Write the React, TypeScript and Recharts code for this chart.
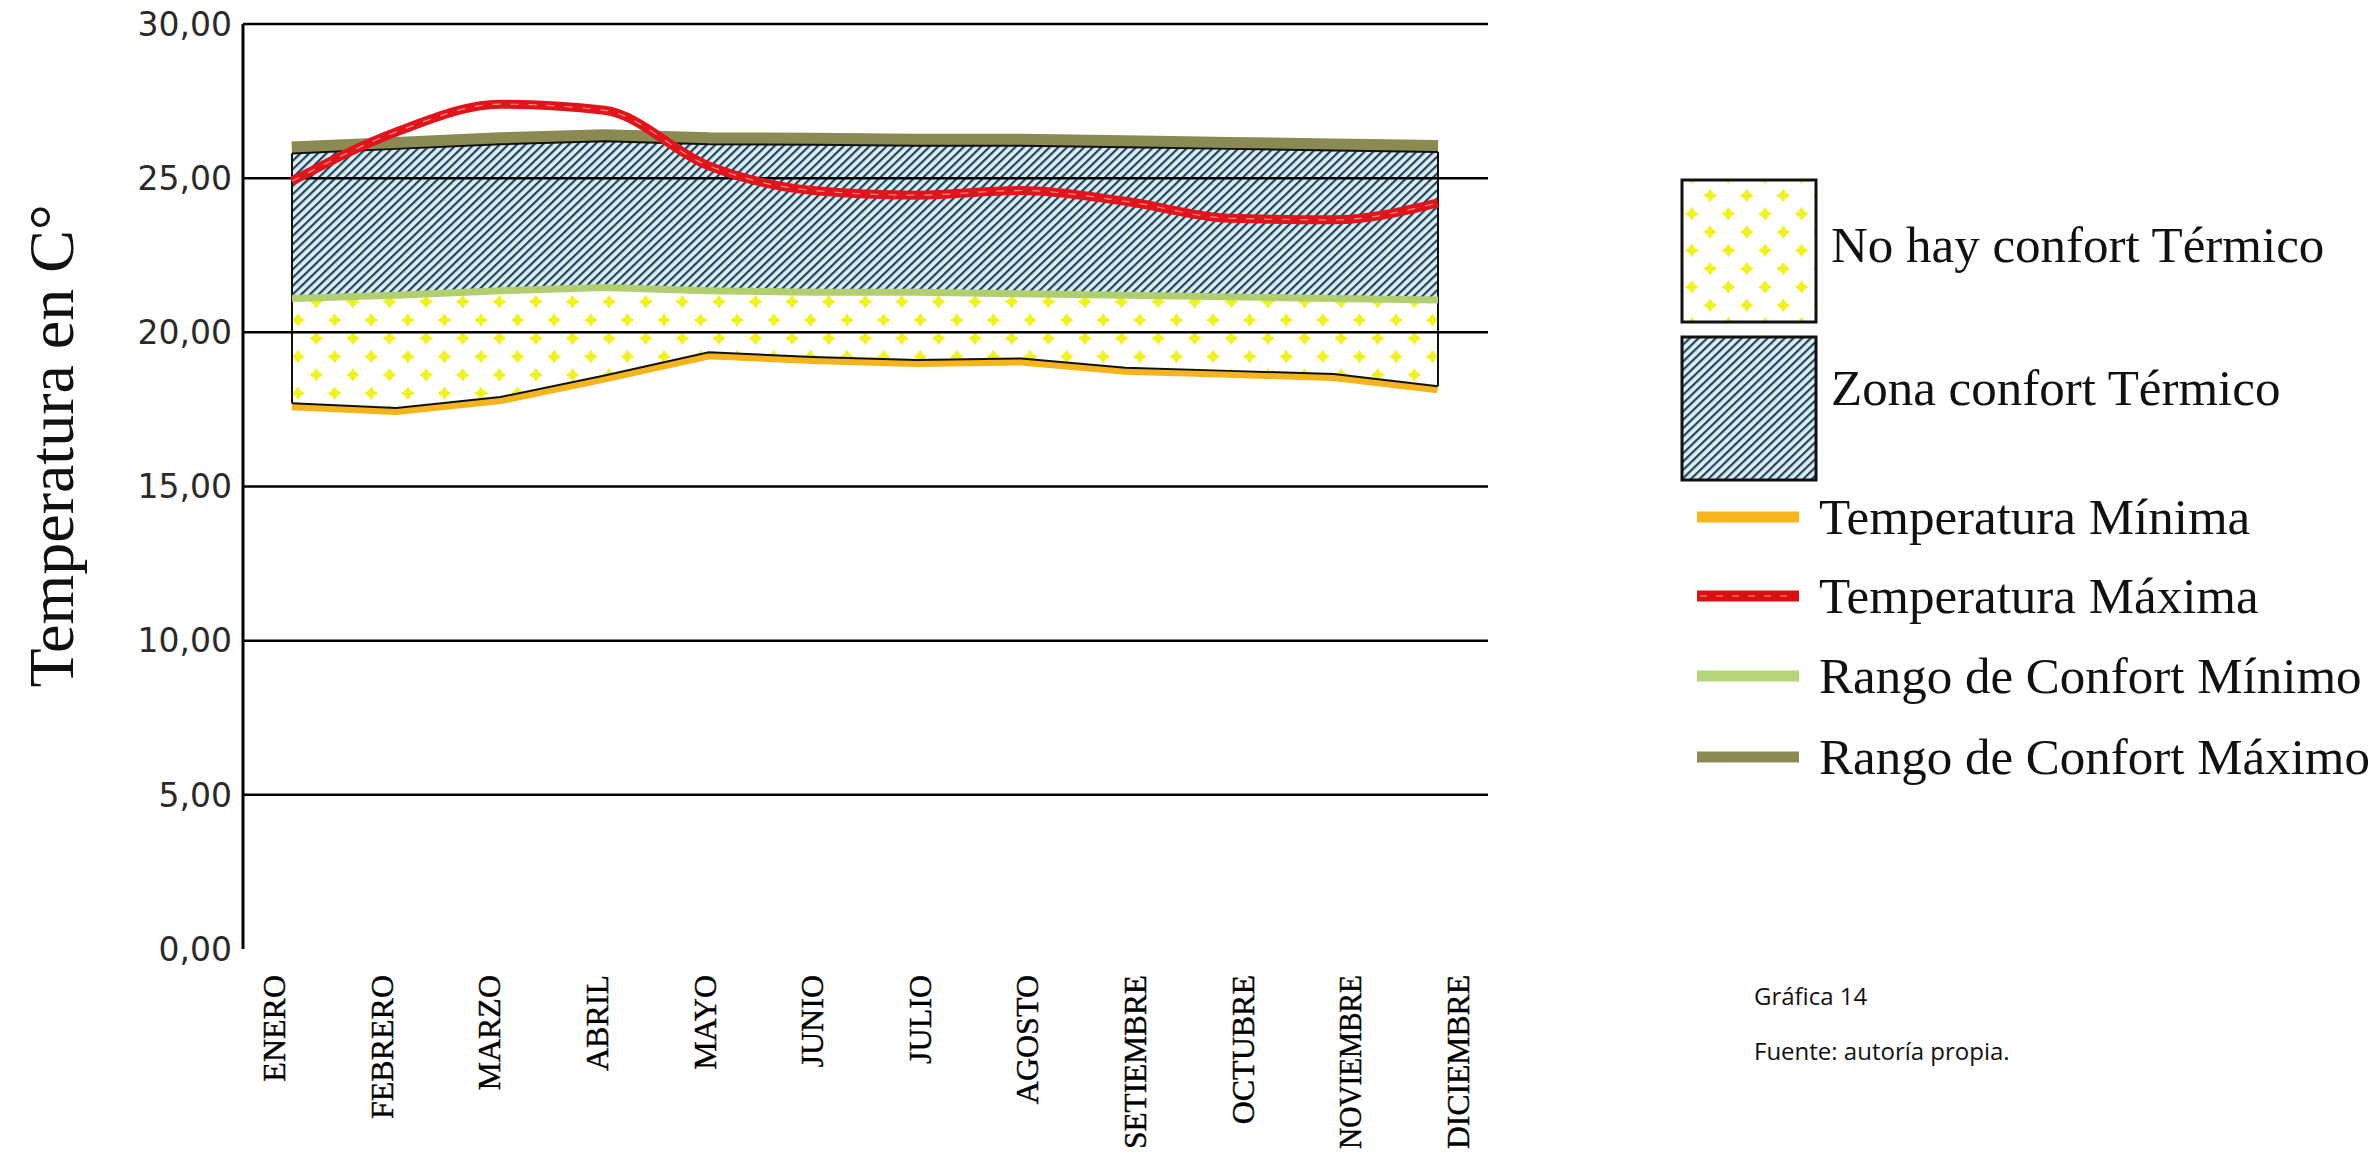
import React from "react";
import {
  ComposedChart,
  Area,
  Line,
  XAxis,
  YAxis,
  ReferenceLine,
  Legend,
  Label,
} from "recharts";

// valores
const MESES = [
  "ENERO",
  "FEBRERO",
  "MARZO",
  "ABRIL",
  "MAYO",
  "JUNIO",
  "JULIO",
  "AGOSTO",
  "SETIEMBRE",
  "OCTUBRE",
  "NOVIEMBRE",
  "DICIEMBRE",
];
const TEMP_MIN = [17.7, 17.55, 17.9, 18.6, 19.35, 19.2, 19.1, 19.15, 18.85, 18.75, 18.65, 18.25];
const TEMP_MAX = [24.9, 26.5, 27.4, 27.2, 25.4, 24.6, 24.45, 24.6, 24.25, 23.7, 23.65, 24.2];
const CONFORT_MIN = [21.1, 21.2, 21.35, 21.45, 21.35, 21.3, 21.3, 21.25, 21.2, 21.15, 21.1, 21.05];
const CONFORT_MAX = [25.8, 25.95, 26.1, 26.2, 26.1, 26.08, 26.05, 26.05, 26.0, 25.95, 25.9, 25.85];
const Y_TICKS = [0, 5, 10, 15, 20, 25, 30];

const LEYENDA_ZONAS = [
  { label: "No hay confort Térmico", fill: "url(#cruces)", y: 30, h: 142, base: 112 },
  { label: "Zona confort Térmico", fill: "url(#rayado)", y: 187, h: 143, base: 255 },
];
const LEYENDA_LINEAS = [
  { label: "Temperatura Mínima", color: "#f7b51c", y: 367 },
  { label: "Temperatura Máxima", color: "#d90f14", y: 446, dashed: true },
  { label: "Rango de Confort Mínimo", color: "#b6d479", y: 526 },
  { label: "Rango de Confort Máximo", color: "#8b8a53", y: 607 },
];

const data = MESES.map((mes, i) => ({
  mes,
  tMin: TEMP_MIN[i],
  tMax: TEMP_MAX[i],
  cMin: CONFORT_MIN[i],
  cMax: CONFORT_MAX[i],
  sinConfort: [TEMP_MIN[i], CONFORT_MIN[i]],
  zonaConfort: [CONFORT_MIN[i], CONFORT_MAX[i]],
}));

const SERIF = "'Liberation Serif', 'Times New Roman', serif";

function star(cx: number, cy: number) {
  const r = 7;
  const w = 2.7;
  return `M${cx},${cy - r} L${cx + w},${cy - w} L${cx + r},${cy} L${cx + w},${cy + w} L${cx},${cy + r} L${cx - w},${cy + w} L${cx - r},${cy} L${cx - w},${cy - w} Z`;
}

function MonthTick({ x, y, payload }: any) {
  const largo = payload.value.length >= 9;
  return (
    <text
      x={0}
      y={0}
      transform={`translate(${x - 9},${y + 26}) rotate(-90)`}
      textAnchor="end"
      fontFamily={SERIF}
      fontSize={32}
      fill="#000"
      stroke="#000"
      strokeWidth={0.4}
      textLength={largo ? 174 : undefined}
      lengthAdjust={largo ? "spacingAndGlyphs" : undefined}
    >
      {payload.value}
    </text>
  );
}

function Leyenda() {
  return (
    <svg width={730} height={700} style={{ display: "block" }}>
      {LEYENDA_ZONAS.map((z) => (
        <g key={z.label}>
          <rect x={32} y={z.y} width={134} height={z.h} fill={z.fill} stroke="#111" strokeWidth={3} />
          <text x={181} y={z.base} fontFamily={SERIF} fontSize={51} fill="#111">
            {z.label}
          </text>
        </g>
      ))}
      {LEYENDA_LINEAS.map((l) => (
        <g key={l.label}>
          <line x1={47} x2={149} y1={l.y} y2={l.y} stroke={l.color} strokeWidth={11} />
          {l.dashed && (
            <line x1={50} x2={146} y1={l.y} y2={l.y} stroke="#ff9a9a" strokeWidth={1.2} strokeDasharray="7 9" />
          )}
          <text x={169} y={l.y + 17} fontFamily={SERIF} fontSize={51} fill="#111">
            {l.label}
          </text>
        </g>
      ))}
    </svg>
  );
}

export default function App() {
  return (
    <div style={{ position: "absolute", left: 0, top: 0, width: 2380, height: 1153, background: "#fff" }}>
      <ComposedChart
        width={2380}
        height={1153}
        data={data}
        margin={{ top: 24, right: 892, left: 0, bottom: 24 }}
      >
        <defs>
          <pattern id="cruces" patternUnits="userSpaceOnUse" width={36.6} height={36.6} x={288.85} y={310.85}>
            <rect width={36.6} height={36.6} fill="#fff" />
            <path d={star(9.15, 9.15)} fill="#f0f21a" />
            <path d={star(27.45, 27.45)} fill="#f0f21a" />
          </pattern>
          <pattern id="rayado" patternUnits="userSpaceOnUse" width={6} height={10} patternTransform="rotate(46)">
            <rect width={6} height={10} fill="#dbeff7" />
            <rect width={2.2} height={10} fill="#24435a" />
          </pattern>
        </defs>

        {/* eje de las series: solo la línea del cero */}
        <XAxis
          xAxisId="serie"
          dataKey="mes"
          type="category"
          scale="point"
          padding={{ left: 49, right: 50 }}
          height={0}
          tick={false}
          tickLine={false}
          axisLine={{ stroke: "#000", strokeWidth: 3.5 }}
        />
        {/* eje de las etiquetas de los meses, algo más espaciadas que los puntos */}
        <XAxis
          xAxisId="meses"
          dataKey="mes"
          type="category"
          scale="point"
          padding={{ left: 51, right: 10 }}
          height={180}
          tickSize={0}
          tickMargin={0}
          interval={0}
          tick={<MonthTick />}
          axisLine={false}
          tickLine={false}
        />
        <YAxis
          width={243}
          domain={[0, 30]}
          ticks={Y_TICKS}
          interval={0}
          tickLine={false}
          tickMargin={5}
          axisLine={{ stroke: "#000", strokeWidth: 3 }}
          tickFormatter={(v: number) => v.toFixed(2).replace(".", ",")}
          tick={{ fontFamily: "'DejaVu Sans', sans-serif", fontSize: 33, fill: "#2a2a2a" }}
          label={
            <Label
              content={() => (
                <text
                  transform="translate(73,446) rotate(-90)"
                  textAnchor="middle"
                  fontFamily={SERIF}
                  fontSize={64}
                  fill="#111"
                >
                  Temperatura en C°
                </text>
              )}
            />
          }
        />

        {/* bandas gruesas que quedan medio tapadas por las zonas */}
        <Area
          xAxisId="serie"
          type="linear"
          dataKey="tMin"
          fill="none"
          stroke="#f5b31d"
          strokeWidth={14}
          isAnimationActive={false}
          activeDot={false}
        />
        <Area
          xAxisId="serie"
          type="linear"
          dataKey="cMax"
          fill="none"
          stroke="#8b8a53"
          strokeWidth={24}
          isAnimationActive={false}
          activeDot={false}
        />
        <Area
          xAxisId="serie"
          type="linear"
          dataKey="sinConfort"
          fill="url(#cruces)"
          fillOpacity={1}
          stroke="#111"
          strokeWidth={2}
          isAnimationActive={false}
          activeDot={false}
        />
        <Area
          xAxisId="serie"
          type="linear"
          dataKey="zonaConfort"
          fill="url(#rayado)"
          fillOpacity={1}
          stroke="#111"
          strokeWidth={2}
          isAnimationActive={false}
          activeDot={false}
        />

        <ReferenceLine
          xAxisId="serie"
          segment={[
            { x: MESES[0], y: TEMP_MIN[0] },
            { x: MESES[0], y: CONFORT_MAX[0] },
          ]}
          stroke="#111"
          strokeWidth={2}
          zIndex={250}
        />
        <ReferenceLine
          xAxisId="serie"
          segment={[
            { x: MESES[11], y: TEMP_MIN[11] },
            { x: MESES[11], y: CONFORT_MAX[11] },
          ]}
          stroke="#111"
          strokeWidth={2}
          zIndex={250}
        />
        {Y_TICKS.filter((t) => t > 0).map((t) => (
          <ReferenceLine key={t} xAxisId="serie" y={t} stroke="#000" strokeWidth={2.5} zIndex={250} />
        ))}

        <Line
          xAxisId="serie"
          type="linear"
          dataKey="cMin"
          stroke="#b1cf6e"
          strokeWidth={7}
          dot={false}
          activeDot={false}
          isAnimationActive={false}
        />
        <Line
          xAxisId="serie"
          type="monotone"
          dataKey="tMax"
          stroke="#e0141a"
          strokeWidth={9}
          dot={false}
          activeDot={false}
          isAnimationActive={false}
        />
        <Line
          xAxisId="serie"
          type="monotone"
          dataKey="tMax"
          stroke="#ff8c8c"
          strokeWidth={1.2}
          strokeDasharray="8 10"
          dot={false}
          activeDot={false}
          isAnimationActive={false}
          legendType="none"
        />

        <Legend
          layout="vertical"
          align="center"
          verticalAlign="middle"
          wrapperStyle={{ left: 1650, top: 150, width: 730, height: 700 }}
          content={() => <Leyenda />}
        />
      </ComposedChart>

      <svg
        width={400}
        height={120}
        style={{ position: "absolute", left: 1740, top: 970 }}
      >
        <text x={14} y={35} fontFamily="'Open Sans', sans-serif" fontSize={24} fill="#111">
          Gráfica 14
        </text>
        <text x={14} y={90} fontFamily="'Open Sans', sans-serif" fontSize={24} fill="#111">
          Fuente: autoría propia.
        </text>
      </svg>
    </div>
  );
}
